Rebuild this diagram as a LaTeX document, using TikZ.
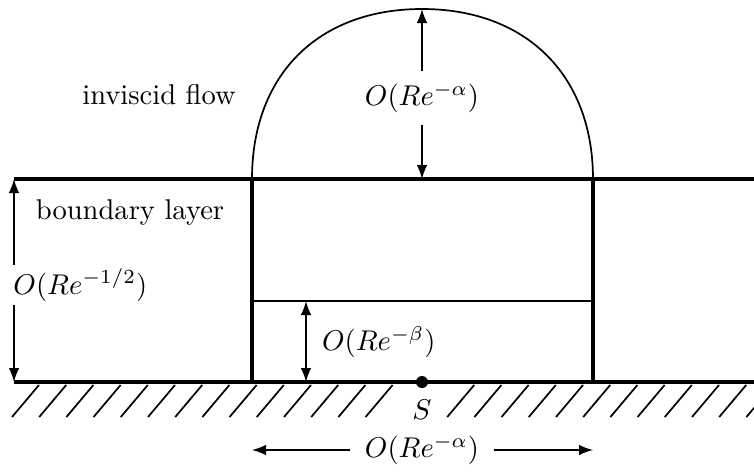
\documentclass[tikz,border=0pt]{standalone}
\usetikzlibrary{arrows,calc}

\begin{document}
\begin{tikzpicture}[
    x=0.35pt, y=0.35pt,
    wall/.style={line width=1.1pt},
    layer/.style={line width=0.7pt},
    arr/.style={latex-latex, line width=0.7pt},
    hatch/.style={line width=0.6pt}
]
\useasboundingbox (0,0) rectangle (754,472);
% wall, edge of the boundary layer, interaction region
\coordinate (wl) at (14,90);
\coordinate (wr) at (754,90);
\coordinate (tl) at (14,293);
\coordinate (tr) at (754,293);
\coordinate (al) at (252,90);
\coordinate (ar) at (593,90);
\coordinate (bl) at (252,293);
\coordinate (br) at (593,293);
\coordinate (ml) at (252,171);
\coordinate (mr) at (593,171);
\coordinate (sub) at (306,171);
\coordinate (subw) at (306,90);
\coordinate (S) at (422,90);
\coordinate (mid) at (422,293);
\coordinate (cap) at (422,463);
\draw[wall] (wl) -- (wr);
\draw[wall] (tl) -- (tr);
\draw[wall] (al) -- (bl);
\draw[wall] (ar) -- (br);
\draw[layer] (ml) -- (mr);
\draw[line width=0.6pt] (bl) .. controls (252,397) and (318,463) .. (cap)
    .. controls (526,463) and (593,397) .. (br);
% hatching under the wall
\begin{scope}
\clip (0,0) rectangle (754,472);
\foreach \k in {0,...,13,16,17,...,27}
    \draw[hatch] (12+27.2*\k,55) -- ++(27,32);
\end{scope}
\fill (S) circle (6);
\node (slbl) at (422,62) {$S$};
% scales
\node[anchor=west, inner sep=1pt] (thick) at (10,187) {$O(Re^{-1/2})$};
\draw[arr, -latex] (thick.north -| tl) -- (tl);
\draw[arr, -latex] (thick.south -| wl) -- (wl);
\node[inner sep=4pt] (height) at (422,374) {$O(Re^{-\alpha})$};
\draw[arr, -latex] (height.north) -- (cap);
\draw[arr, -latex] (height.south) -- (mid);
\draw[arr] (sub) -- (subw);
\node[anchor=west] (sublbl) at (312,130) {$O(Re^{-\beta})$};
\node[inner sep=5pt] (span) at (422,22) {$O(Re^{-\alpha})$};
\draw[arr, -latex] (span.west) -- (span.west -| al);
\draw[arr, -latex] (span.east) -- (span.east -| ar);
\node (bnd) at (130,259) {boundary layer};
\node (inv) at (159,377) {inviscid flow};
\end{tikzpicture}
\end{document}
